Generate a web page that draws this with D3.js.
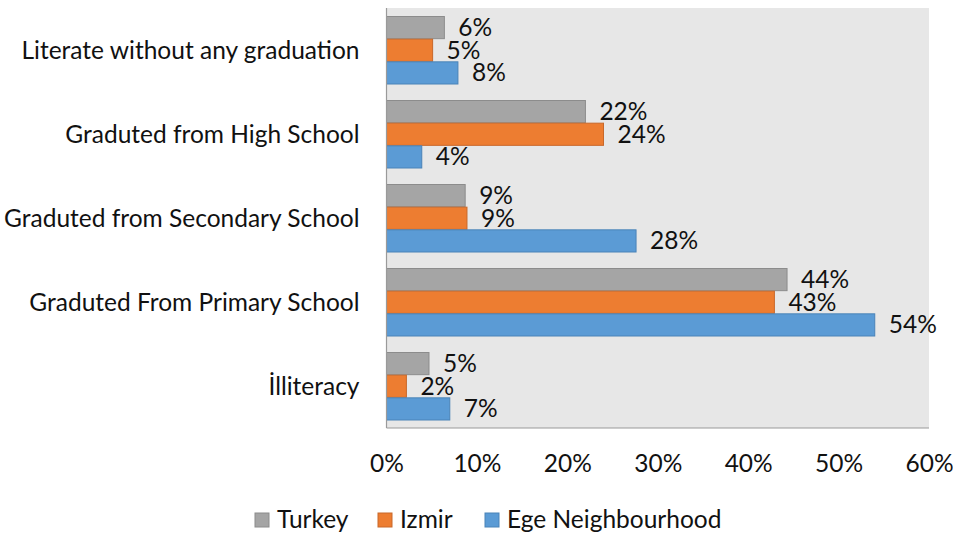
<!DOCTYPE html>
<html><head><meta charset="utf-8">
<script src="https://cdn.jsdelivr.net/npm/d3@7"></script>
<style>
html,body{margin:0;padding:0;background:#fff;}
svg{display:block;font-family:Lato,"Open Sans",sans-serif;}
</style></head>
<body>
<svg id="chart" width="953" height="534"></svg>
<script>
const categories = ["Literate without any graduation","Graduted from High School","Graduted from Secondary School","Graduted From Primary School","İlliteracy"];
const seriesNames = ["Turkey","Izmir","Ege Neighbourhood"];
const turkey = [6.4, 22.0, 8.7, 44.3, 4.7];
const izmir  = [5.1, 24.0, 8.9, 42.9, 2.2];
const ege    = [7.9, 3.9, 27.6, 54.0, 7.0];
const xTicks = [0, 10, 20, 30, 40, 50, 60];
const colors = ["#A5A5A5","#ED7D31","#5B9BD5"];
const strokes = ["#8C8C8C","#C8682A","#4A83B8"];

const series = [turkey, izmir, ege];
const svg = d3.select("#chart");
const m = {left:386.5, right:929, top:8, bottom:428};
const FS = "24.5px";

const x = d3.scaleLinear().domain([0,60]).range([m.left, m.right]);
const y = d3.scaleBand().domain(categories).range([m.top, m.bottom]).paddingInner(16/84).paddingOuter(8/84);
const ys = d3.scaleBand().domain(seriesNames).range([0, y.bandwidth()]);

svg.append("rect").attr("x",m.left).attr("y",m.top).attr("width",m.right-m.left).attr("height",m.bottom-m.top).attr("fill","#E7E7E7");

const g = svg.append("g");
categories.forEach((c,ci)=>{
  seriesNames.forEach((s,si)=>{
    const v = series[si][ci];
    g.append("rect")
      .attr("x", x(0)).attr("y", y(c)+ys(s)+0.5)
      .attr("width", x(v)-x(0)).attr("height", ys.bandwidth()-0.5)
      .attr("fill", colors[si]).attr("stroke", strokes[si]).attr("stroke-width",1);
    g.append("text")
      .attr("x", x(v)+14).attr("y", y(c)+ys(s)+ys.bandwidth()/2+8.5)
      .attr("font-size",FS).attr("fill","#111")
      .text(Math.round(v)+"%");
  });
});

// axis lines
svg.append("line").attr("x1",m.left).attr("x2",m.left).attr("y1",m.top).attr("y2",m.bottom).attr("stroke","#9a9a9a").attr("stroke-width",1.2);
svg.append("line").attr("x1",m.left).attr("x2",m.right).attr("y1",m.bottom).attr("y2",m.bottom).attr("stroke","#9a9a9a").attr("stroke-width",1.2);

// x axis ticks
const xAxis = d3.axisBottom(x).tickValues(xTicks).tickFormat(d=>d+"%").tickSize(0).tickPadding(0);
const xg = svg.append("g").attr("transform",`translate(0,${m.bottom})`).call(xAxis);
xg.select(".domain").remove();
xg.selectAll("text").attr("font-size",FS).attr("fill","#111").attr("font-family","Lato,sans-serif").attr("dy",null).attr("y",44);

// y axis labels
const yAxis = d3.axisLeft(y).tickSize(0).tickPadding(27);
const yg = svg.append("g").attr("transform",`translate(${m.left},0)`).call(yAxis);
yg.select(".domain").remove();
yg.selectAll("text").attr("font-size",FS).attr("fill","#111").attr("font-family","Lato,sans-serif").attr("dy","0.36em");

// legend
const legendX = [255, 378, 485];
const lg = svg.append("g");
seriesNames.forEach((s,i)=>{
  lg.append("rect").attr("x",legendX[i]).attr("y",513).attr("width",14).attr("height",14)
    .attr("fill",colors[i]).attr("stroke",strokes[i]);
  lg.append("text").attr("x",legendX[i]+22).attr("y",528).attr("font-size",FS).attr("fill","#111").text(s);
});
</script>
</body></html>
